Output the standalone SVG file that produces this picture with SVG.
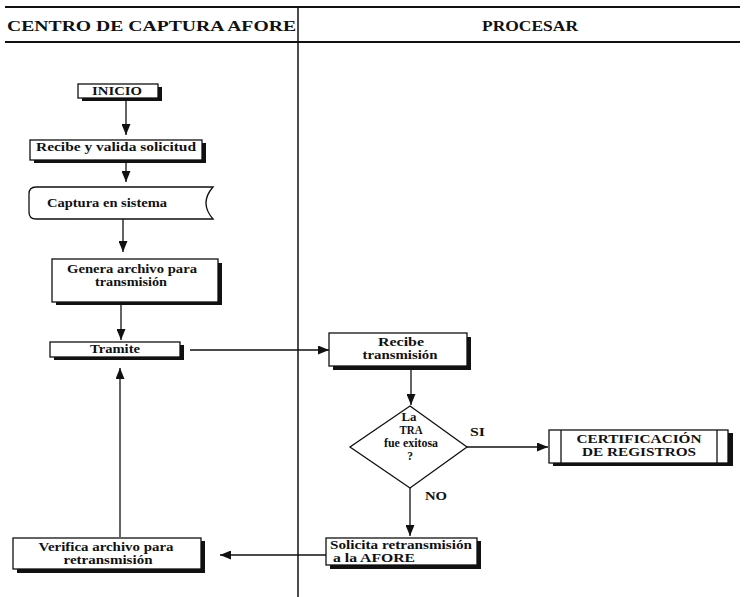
<svg xmlns="http://www.w3.org/2000/svg" width="745" height="597" viewBox="0 0 745 597">
<style>
text{font-family:"Liberation Serif","Times New Roman",serif;font-weight:bold;fill:#111;}
.hd{font-size:15px;}
.t{font-size:11.5px;}
.box{fill:#fff;stroke:#111;stroke-width:1.3;}
.sh{fill:#111;}
.ln{fill:none;stroke:#111;stroke-width:1.3;}
.frame{fill:none;stroke:#111;stroke-width:2;}
</style>
<defs>
<marker id="ah" markerUnits="userSpaceOnUse" markerWidth="11" markerHeight="9" refX="11" refY="4.5" orient="auto">
<path d="M0,0 L11,4.5 L0,9 Z" fill="#111"/>
</marker>
</defs>
<rect width="745" height="597" fill="#fff"/>
<g id="header">
<line class="frame" x1="5" y1="7" x2="740" y2="7"/>
<line class="frame" x1="5" y1="42" x2="740" y2="42"/>
<line x1="298" y1="7" x2="298" y2="597" stroke="#111" stroke-width="1.5"/>
<text class="hd" x="7" y="31" textLength="289" lengthAdjust="spacingAndGlyphs">CENTRO DE CAPTURA AFORE</text>
<text class="hd" x="482" y="31" textLength="96" lengthAdjust="spacingAndGlyphs">PROCESAR</text>
</g>
<g id="connectors">
<path class="ln" d="M126,98 V135" marker-end="url(#ah)"/>
<path class="ln" d="M126,163 V182" marker-end="url(#ah)"/>
<path class="ln" d="M123,219 V252" marker-end="url(#ah)"/>
<path class="ln" d="M121,305 V340" marker-end="url(#ah)"/>
<path class="ln" d="M190,350 H329" marker-end="url(#ah)"/>
<path class="ln" d="M411,370 V405" marker-end="url(#ah)"/>
<path class="ln" d="M467,447 H548" marker-end="url(#ah)"/>
<path class="ln" d="M410,488 V536" marker-end="url(#ah)"/>
<path class="ln" d="M326,555 H220" marker-end="url(#ah)"/>
<path class="ln" d="M120,537 V368" marker-end="url(#ah)"/>
<text class="t" x="470" y="436" textLength="15" lengthAdjust="spacingAndGlyphs">SI</text>
<text class="t" x="425" y="500" textLength="22" lengthAdjust="spacingAndGlyphs">NO</text>
</g>
<g id="inicio">
<rect class="sh" x="82" y="87" width="80" height="14"/>
<rect class="box" x="78" y="84" width="80" height="14"/>
<text class="t" x="117" y="95" text-anchor="middle" textLength="50" lengthAdjust="spacingAndGlyphs">INICIO</text>
</g>
<g id="recibe-valida">
<rect class="sh" x="34" y="143" width="172" height="20"/>
<rect class="box" x="30" y="140" width="172" height="20"/>
<text class="t" x="116" y="151" text-anchor="middle" textLength="160" lengthAdjust="spacingAndGlyphs">Recibe y valida solicitud</text>
</g>
<g id="captura">
<path class="box" d="M36,187 H213 Q199,203 213,219 H36 Q29,219 29,212 V194 Q29,187 36,187 Z"/>
<text class="t" x="107" y="207" text-anchor="middle" textLength="120" lengthAdjust="spacingAndGlyphs">Captura en sistema</text>
</g>
<g id="genera">
<rect class="sh" x="56" y="263" width="166" height="42"/>
<rect class="box" x="52" y="259" width="166" height="43"/>
<text class="t" x="132" y="273" text-anchor="middle" textLength="130" lengthAdjust="spacingAndGlyphs">Genera archivo para</text>
<text class="t" x="131" y="286" text-anchor="middle" textLength="72" lengthAdjust="spacingAndGlyphs">transmisión</text>
</g>
<g id="tramite">
<rect class="sh" x="54" y="345" width="130" height="15"/>
<rect class="box" x="50" y="342" width="130" height="15"/>
<text class="t" x="115" y="353" text-anchor="middle" textLength="50" lengthAdjust="spacingAndGlyphs">Tramite</text>
</g>
<g id="recibe-transmision">
<rect class="sh" x="333" y="337" width="138" height="33"/>
<rect class="box" x="329" y="333" width="138" height="33"/>
<text class="t" x="401" y="346" text-anchor="middle" textLength="46" lengthAdjust="spacingAndGlyphs">Recibe</text>
<text class="t" x="400" y="359" text-anchor="middle" textLength="75" lengthAdjust="spacingAndGlyphs">transmisión</text>
</g>
<g id="decision">
<polygon class="box" points="410,406 467,447 410,488 350,447"/>
<text class="t" x="409" y="421" text-anchor="middle" textLength="15" lengthAdjust="spacingAndGlyphs">La</text>
<text class="t" x="411" y="434" text-anchor="middle" textLength="23" lengthAdjust="spacingAndGlyphs">TRA</text>
<text class="t" x="411" y="447" text-anchor="middle" textLength="54" lengthAdjust="spacingAndGlyphs">fue exitosa</text>
<text class="t" x="410" y="460" text-anchor="middle">?</text>
</g>
<g id="certificacion">
<rect class="sh" x="553" y="433" width="180" height="33"/>
<rect class="box" x="549" y="430" width="179" height="33"/>
<line class="ln" x1="561" y1="430" x2="561" y2="463"/>
<line class="ln" x1="717" y1="430" x2="717" y2="463"/>
<text class="t" x="639" y="443" text-anchor="middle" textLength="125" lengthAdjust="spacingAndGlyphs">CERTIFICACIÓN</text>
<text class="t" x="639" y="456" textLength="114" text-anchor="middle" lengthAdjust="spacingAndGlyphs">DE REGISTROS</text>
</g>
<g id="solicita">
<rect class="sh" x="330" y="541" width="151" height="28"/>
<rect class="box" x="326" y="538" width="151" height="27"/>
<text class="t" x="330" y="549" textLength="142" lengthAdjust="spacingAndGlyphs">Solicita retransmisión</text>
<text class="t" x="333" y="562" textLength="82" lengthAdjust="spacingAndGlyphs">a la AFORE</text>
</g>
<g id="verifica">
<rect class="sh" x="17" y="541" width="188" height="32"/>
<rect class="box" x="13" y="538" width="188" height="31"/>
<text class="t" x="106" y="551" text-anchor="middle" textLength="135" lengthAdjust="spacingAndGlyphs">Verifica archivo para</text>
<text class="t" x="108" y="564" text-anchor="middle" textLength="89" lengthAdjust="spacingAndGlyphs">retransmisión</text>
</g>
</svg>
